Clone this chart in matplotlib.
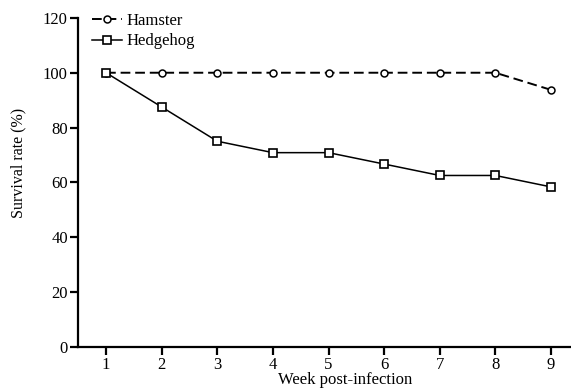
"""
Survival rate of hamsters and hedgehogs over weeks post-infection
"""

import matplotlib
matplotlib.use("Agg")
from matplotlib import pyplot as plt

weeks = [1, 2, 3, 4, 5, 6, 7, 8, 9]
hamster = [100, 100, 100, 100, 100, 100, 100, 100, 93.75]
hedgehog = [100, 87.5, 75, 70.83, 70.83, 66.67, 62.5, 62.5, 58.33]
y_ticks = [0, 20, 40, 60, 80, 100, 120]

plt.rcParams["font.family"] = ["Liberation Serif", "DejaVu Serif"]
plt.rcParams["font.size"] = 12


def plot_survival():
    fig = plt.figure(figsize=(5.71, 3.9), dpi=100)
    a_x = fig.add_axes([0.137, 0.111, 0.863, 0.843])

    a_x.plot(weeks, hamster, linestyle=(0, (5, 2.5)), color="black", linewidth=1.4,
             marker="o", markersize=5, markerfacecolor="white",
             markeredgewidth=1.1, label="Hamster", zorder=3)
    a_x.plot(weeks, hedgehog, linestyle="-", color="black", linewidth=1.1,
             marker="s", markersize=5.5, markerfacecolor="white",
             markeredgewidth=1.2, label="Hedgehog", zorder=3)

    a_x.set_xlim(0.5, 9.36)
    a_x.set_ylim(0, 120)
    a_x.set_xticks(weeks)
    a_x.set_yticks(y_ticks)

    for side in ("top", "right"):
        a_x.spines[side].set_visible(False)
    for side in ("left", "bottom"):
        a_x.spines[side].set_linewidth(1.6)

    a_x.tick_params(direction="out", length=6, width=1.6, labelsize=12, pad=1.5)

    # the original figure was cropped on the right, so labels sit off-centre
    a_x.set_xlabel("Week post-infection", fontsize=12)
    a_x.xaxis.set_label_coords(0.542, -0.077, transform=a_x.transAxes)
    a_x.set_ylabel("Survival rate (%)", fontsize=11.5)
    a_x.yaxis.set_label_coords(-0.105, 0.56, transform=a_x.transAxes)

    a_x.legend(loc="upper left", bbox_to_anchor=(0.005, 1.05), frameon=False,
               handlelength=1.8, handletextpad=0.25, labelspacing=0.25,
               borderaxespad=0.3, fontsize=12)

    fig.savefig("out.png", dpi=100)


if __name__ == "__main__":
    plot_survival()
